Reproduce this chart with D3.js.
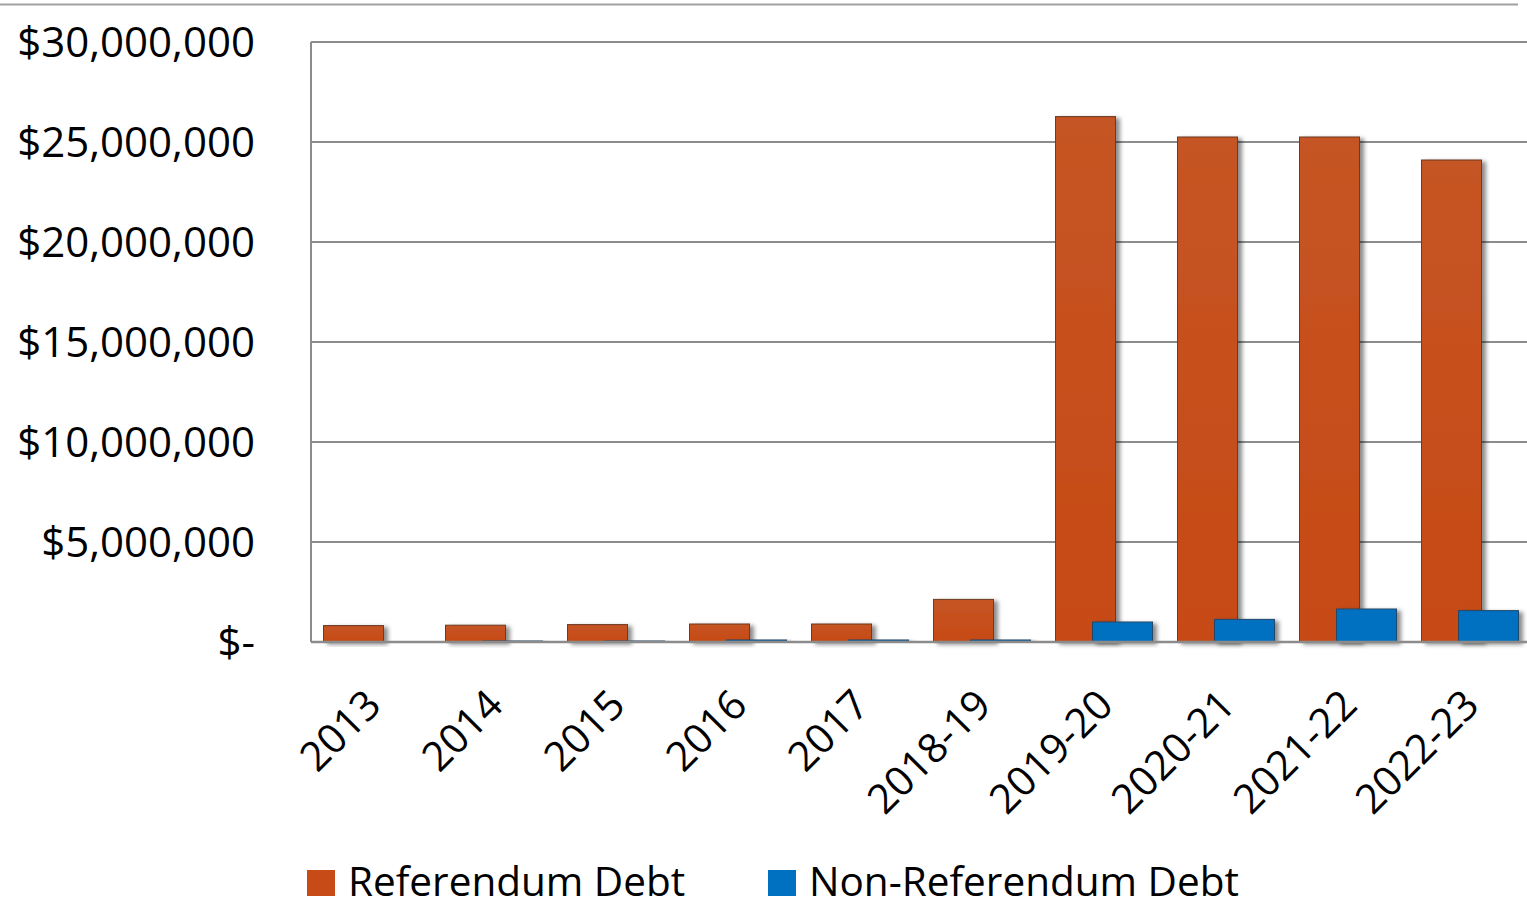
<!DOCTYPE html>
<html><head><meta charset="utf-8">
<script src="https://cdn.jsdelivr.net/npm/d3@7"></script>
<style>body{margin:0;background:#fff;} svg{display:block;} text{font-family:"Open Sans", sans-serif;fill:#000;}</style>
</head><body><svg id="c" width="1527" height="907"></svg>
<script>
const categories = ["2013","2014","2015","2016","2017","2018-19","2019-20","2020-21","2021-22","2022-23"];
const referendumDebt = [820000, 840000, 870000, 900000, 900000, 2130000, 26270000, 25250000, 25250000, 24100000];
const nonReferendumDebt = [0, 50000, 50000, 100000, 100000, 100000, 1000000, 1130000, 1650000, 1570000];
const yTicks = [0, 5000000, 10000000, 15000000, 20000000, 25000000, 30000000];
const seriesNames = ["Referendum Debt", "Non-Referendum Debt"];
const colors = ["#C64B17", "#0070C0"];

const svg = d3.select("#c");
const L = 311, R = 1527, T = 42, B = 642;
const x = d3.scaleBand().domain(categories).range([L, L + 1220]).padding(0);
const y = d3.scaleLinear().domain([0, 30000000]).range([B, T]);

const defs = svg.append("defs");
const f = defs.append("filter").attr("id","sh").attr("x","-20%").attr("y","-20%").attr("width","150%").attr("height","150%");
f.append("feDropShadow").attr("dx",4).attr("dy",2).attr("stdDeviation",2.2).attr("flood-color","#000").attr("flood-opacity",0.45);
const g1 = defs.append("linearGradient").attr("id","go").attr("x1",0).attr("y1",0).attr("x2",0).attr("y2",1);
g1.append("stop").attr("offset",0).attr("stop-color","#C65425");
g1.append("stop").attr("offset",1).attr("stop-color","#C64A14");

svg.append("line").attr("x1",0).attr("x2",1518).attr("y1",4.5).attr("y2",4.5).attr("stroke","#a0a0a0").attr("stroke-width",2);

svg.append("g").selectAll("line").data(yTicks.filter(d=>d>0)).join("line")
  .attr("x1",L).attr("x2",R).attr("y1",d=>y(d)).attr("y2",d=>y(d))
  .attr("stroke","#8c8c8c").attr("stroke-width",2);
svg.append("line").attr("x1",L).attr("x2",L).attr("y1",T).attr("y2",B).attr("stroke","#8c8c8c").attr("stroke-width",2);

const fmt = d => d === 0 ? "$-" : "$" + d3.format(",")(d);
svg.append("g").selectAll("text").data(yTicks).join("text")
  .attr("x",255).attr("y",d=>y(d)).attr("dy","0.36em").attr("text-anchor","end")
  .attr("font-size",42).text(fmt);

const bw = 60;
const bars = svg.append("g");
categories.forEach((c,i)=>{
  const x0 = x(c);
  const ro = referendumDebt[i];
  bars.append("rect").attr("x",x0+12.5).attr("width",bw).attr("y",y(ro)).attr("height",B-y(ro))
    .attr("fill","url(#go)").attr("stroke","#6b3a25").attr("stroke-width",1).attr("filter","url(#sh)");
});
categories.forEach((c,i)=>{
  const x0 = x(c);
  const nv = nonReferendumDebt[i];
  if (nv > 0) bars.append("rect").attr("x",x0+49.5).attr("width",bw).attr("y",y(nv)).attr("height",B-y(nv))
    .attr("fill",colors[1]).attr("stroke","#24476b").attr("stroke-width",1).attr("filter","url(#sh)");
});

svg.append("line").attr("x1",L).attr("x2",R).attr("y1",B).attr("y2",B).attr("stroke","#8c8c8c").attr("stroke-width",2.5);

svg.append("g").selectAll("text").data(categories).join("text")
  .attr("text-anchor","end").attr("font-size",41)
  .attr("transform",d=>`translate(${x(d)+x.bandwidth()/2+1},${697}) rotate(-45)`)
  .attr("dy","0.36em").text(d=>d);

const lg = svg.append("g");
const lx = [307, 768];
seriesNames.forEach((n,i)=>{
  lg.append("rect").attr("x",lx[i]).attr("y",870).attr("width",28).attr("height",26).attr("fill",colors[i]);
  lg.append("text").attr("x",lx[i]+41).attr("y",896).attr("font-size",40.5).text(n);
});
</script></body></html>
